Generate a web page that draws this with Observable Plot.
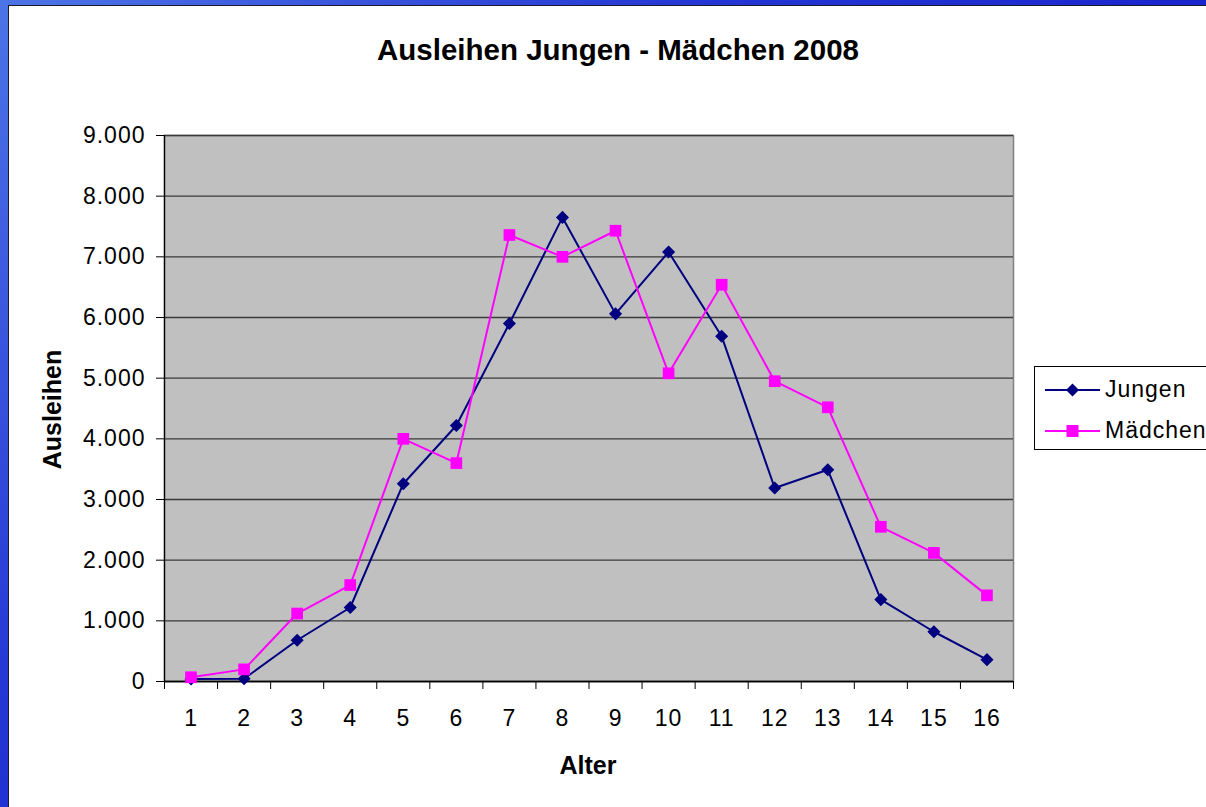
<!DOCTYPE html>
<html>
<head>
<meta charset="utf-8">
<script src="https://cdn.jsdelivr.net/npm/d3@7"></script>
<script src="https://cdn.jsdelivr.net/npm/@observablehq/plot@0.6"></script>
<style>
  html, body { margin: 0; padding: 0; }
  html { overflow: hidden; }
  body { width: 1206px; height: 807px; overflow: hidden; position: relative;
         background: linear-gradient(135deg, #4d74e6 0%, #2436d4 35%, #0a0cc4 100%);
         font-family: "Liberation Sans", Arial, sans-serif; }
  #panel { position: absolute; left: 8px; top: 5px; right: 0; bottom: 0; background: #fff;
           border-left: 1px solid #1a1a2a; border-top: 1px solid #1a1a2a; }
  #chart { position: absolute; left: 0; top: 0; }
  .title { position: absolute; line-height: 1; font-weight: bold; color: #000; white-space: nowrap; }
  #legend { position: absolute; left: 1034px; top: 366px; width: 171px; height: 82px;
            border: 1px solid #000; border-right: none; background: #fff; overflow: hidden; }
  .lg { position: absolute; left: 0; width: 200px; height: 30px; white-space: nowrap; }
  .lg svg { position: absolute; left: 9px; top: 0; }
  .lg span { position: absolute; left: 70px; top: 3px; font-size: 23px; letter-spacing: 1px; line-height: 1; }
</style>
</head>
<body>
<div id="panel"></div>
<div id="chart"></div>
<div class="title" id="t" style="top:35px; left:618px; transform:translateX(-50%); font-size:29.5px;">Ausleihen Jungen - Mädchen 2008</div>
<div class="title" id="xl" style="top:753px; left:588px; transform:translateX(-50%); font-size:25px;">Alter</div>
<div class="title" id="yl" style="top:397px; left:-48px; width:200px; text-align:center; transform:rotate(-90deg); font-size:25px;">Ausleihen</div>
<div id="legend">
  <div class="lg" style="top:8px;">
    <svg width="58" height="30"><line x1="1" x2="56" y1="15" y2="15" stroke="#000080" stroke-width="2"/><path d="M28.5,8.5 L35,15 L28.5,21.5 L22,15 Z" fill="#000080"/></svg>
    <span>Jungen</span>
  </div>
  <div class="lg" style="top:49px;">
    <svg width="58" height="30"><line x1="1" x2="56" y1="15" y2="15" stroke="#ff00ff" stroke-width="2"/><rect x="22.5" y="9" width="12" height="12" fill="#ff00ff"/></svg>
    <span>Mädchen</span>
  </div>
</div>
<script>
const ages = [1, 2, 3, 4, 5, 6, 7, 8, 9, 10, 11, 12, 13, 14, 15, 16];
const jungen = [40, 45, 680, 1220, 3260, 4220, 5900, 7650, 6060, 7080, 5690, 3190, 3490, 1350, 820, 360];
const maedchen = [70, 200, 1120, 1590, 4000, 3600, 7360, 7000, 7430, 5080, 6540, 4950, 4520, 2550, 2120, 1420];
const yTicks = [0, 1000, 2000, 3000, 4000, 5000, 6000, 7000, 8000, 9000];
const seriesNames = ["Jungen", "Mädchen"];

const data = ages.map((a, i) => ({age: a, jungen: jungen[i], maedchen: maedchen[i]}));
const boundaries = [0, ...ages].map(a => a + 0.5);
const de = d3.formatLocale({decimal: ",", thousands: ".", grouping: [3], currency: ["", " €"]});
const fmt = de.format(",");

const chart = Plot.plot({
  width: 1206,
  height: 807,
  marginLeft: 164,
  marginRight: 193,
  marginTop: 135,
  marginBottom: 126,
  style: {background: "transparent", fontFamily: "'Liberation Sans', Arial, sans-serif", fontSize: "23px", letterSpacing: "1px", color: "#000", overflow: "visible"},
  x: {type: "linear", domain: [0.5, 16.5], label: null},
  y: {domain: [0, 9000], label: null},
  marks: [
    Plot.frame({fill: "#c0c0c0", stroke: "#808080", strokeWidth: 1.5}),
    Plot.gridY(yTicks, {stroke: "#3a3a3a", strokeOpacity: 1, strokeWidth: 1.3}),
    Plot.ruleX([0.5], {stroke: "#000", strokeWidth: 1.3}),
    Plot.ruleY([0], {stroke: "#000", strokeWidth: 1.3}),
    Plot.axisY(yTicks, {tickSize: 8, tickPadding: 11, tickFormat: fmt, label: null, stroke: "#000"}),
    Plot.axisX(boundaries, {tickSize: 8, tickFormat: () => "", label: null, stroke: "#000"}),
    Plot.axisX(ages, {tickSize: 0, tickPadding: 28, tickFormat: d => String(d), label: null}),
    Plot.line(data, {x: "age", y: "jungen", stroke: "#000080", strokeWidth: 2}),
    Plot.dot(data, {x: "age", y: "jungen", symbol: "diamond2", r: 5.9, fill: "#000080", stroke: "none"}),
    Plot.line(data, {x: "age", y: "maedchen", stroke: "#ff00ff", strokeWidth: 2}),
    Plot.dot(data, {x: "age", y: "maedchen", symbol: "square", r: 6.6, fill: "#ff00ff", stroke: "none"})
  ]
});
document.getElementById("chart").appendChild(chart);
</script>
</body>
</html>
